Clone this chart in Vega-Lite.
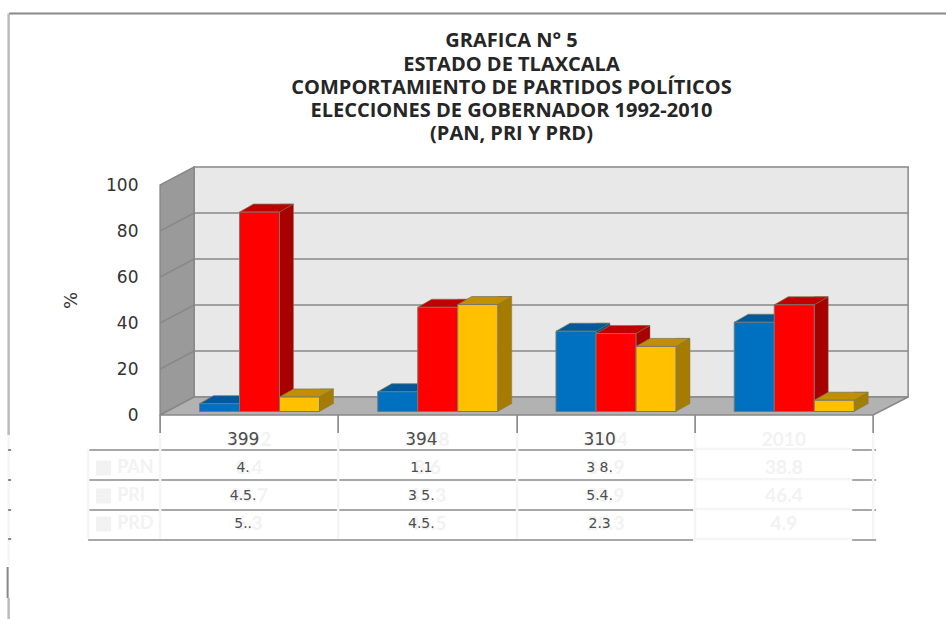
{
"$schema":"https://vega.github.io/schema/vega-lite/v6.json",
"width":713,"height":230,
"padding":{"left":160,"top":185,"right":73,"bottom":204},
"autosize":{"type":"none"},
"background":"white",
"config":{"view":{"stroke":null},"font":"DejaVu Sans"},
"title":{"text":["GRAFICA N° 5","ESTADO DE TLAXCALA","COMPORTAMIENTO DE PARTIDOS POLÍTICOS","ELECCIONES DE GOBERNADOR 1992-2010","(PAN, PRI Y PRD)"],"font":"Open Sans","fontSize":20,"fontWeight":"bold","color":"#262626","lineHeight":23.3,"anchor":"middle","dx":-5,"offset":-136},
"datasets":{
"bars":[
{"year":"1992","party":"PAN","value":3.4},{"year":"1992","party":"PRI","value":86.7},{"year":"1992","party":"PRD","value":6.3},
{"year":"1998","party":"PAN","value":8.6},{"year":"1998","party":"PRI","value":45.3},{"year":"1998","party":"PRD","value":46.5},
{"year":"2004","party":"PAN","value":34.9},{"year":"2004","party":"PRI","value":33.9},{"year":"2004","party":"PRD","value":28.3},
{"year":"2010","party":"PAN","value":38.8},{"year":"2010","party":"PRI","value":46.4},{"year":"2010","party":"PRD","value":4.9}],
"grid":[{"year":"1992","value":20},{"year":"1992","value":40},{"year":"1992","value":60},{"year":"1992","value":80}],
"cells":[
{"year":"1992","row":"Year","text":"1992","dark":"399"},{"year":"1998","row":"Year","text":"1998","dark":"394"},{"year":"2004","row":"Year","text":"2004","dark":"310"},{"year":"2010","row":"Year","text":"2010","dark":""},
{"year":"1992","row":"PAN","text":"3.4","dark":"4."},{"year":"1998","row":"PAN","text":"8.6","dark":"1.1"},{"year":"2004","row":"PAN","text":"34.9","dark":"3 8."},{"year":"2010","row":"PAN","text":"38.8","dark":""},
{"year":"1992","row":"PRI","text":"86.7","dark":"4.5."},{"year":"1998","row":"PRI","text":"45.3","dark":"3 5."},{"year":"2004","row":"PRI","text":"33.9","dark":"5.4."},{"year":"2010","row":"PRI","text":"46.4","dark":""},
{"year":"1992","row":"PRD","text":"6.3","dark":"5.."},{"year":"1998","row":"PRD","text":"46.5","dark":"4.5."},{"year":"2004","row":"PRD","text":"28.3","dark":"2.3"},{"year":"2010","row":"PRD","text":"4.9","dark":""}],
"rowlabels":[{"year":"1992","row":"PAN"},{"year":"1992","row":"PRI"},{"year":"1992","row":"PRD"}],
"anchor":[{"year":"1992","value":0}]
},
"encoding":{"x":{"field":"year","type":"nominal","axis":null,"scale":{"domain":["1992","1998","2004","2010"],"paddingInner":0,"paddingOuter":0}}},
"resolve":{"scale":{"y":"independent"}},
"layer":[
{
"encoding":{"y":{"field":"value","type":"quantitative","scale":{"domain":[0,100],"nice":false},"axis":{"title":"%","titleFont":"DejaVu Sans","titleFontWeight":"normal","titleFontSize":18,"titleColor":"#333","titlePadding":25,"labelFont":"DejaVu Sans","labelFontSize":17,"labelColor":"#333","labelPadding":22,"domain":false,"ticks":false,"grid":false,"values":[0,20,40,60,80,100]}}},
"layer":[
{"data":{"name":"anchor"},"mark":{"type":"point","filled":false,"size":4,"opacity":1,"stroke":"#f5f5f5","strokeWidth":2.5,"shape":"M-240.5 20 L-240.5 150"}},
{"data":{"name":"anchor"},"mark":{"type":"point","filled":false,"size":4,"opacity":1,"stroke":"#bbbbbb","strokeWidth":2.5,"shape":"M-240.5 -401.5 L-240.5 20 M-240.5 183 L-240.5 204"}},
{"data":{"name":"anchor"},"mark":{"type":"point","filled":false,"size":4,"opacity":1,"stroke":"#888","strokeWidth":2,"shape":"M-240 -401.5 L697 -401.5 M-241 35 L-238 35 M-241 65 L-238 65 M-241 95 L-238 95 M-241 124 L-238 124 M-241.5 152 L-241.5 183"}},
{"data":{"name":"anchor"},"mark":{"type":"point","filled":true,"size":4,"opacity":1,"fill":"#e8e8e8","stroke":"#888","strokeWidth":1.5,"shape":"M-55 -18 L659 -18 L659 -248 L-55 -248 Z"}},
{"data":{"name":"anchor"},"mark":{"type":"point","filled":true,"size":4,"opacity":1,"fill":"#9a9a9a","stroke":"#888","strokeWidth":1.5,"shape":"M-89 0 L-55 -18 L-55 -248 L-89 -230 Z"}},
{"data":{"name":"anchor"},"mark":{"type":"point","filled":true,"size":4,"opacity":1,"fill":"#b2b2b2","stroke":"#888","strokeWidth":1.5,"shape":"M-89 0 L-55 -18 L659 -18 L624 0 Z"}},
{"data":{"name":"grid"},"mark":{"type":"point","filled":false,"size":4,"opacity":1,"stroke":"#888","strokeWidth":1.5,"shape":"M-89 0 L-55 -18 L659 -18"}},
{"data":{"name":"anchor"},"mark":{"type":"point","filled":false,"size":4,"opacity":1,"stroke":"#8c8c8c","strokeWidth":1.7,"shape":"M-89 0 L-89 18 M89 0 L89 18 M268 0 L268 18 M446 0 L446 18 M624 0 L624 18 M-161 35 L444 35 M-161 65 L444 65 M-161 95 L444 95 M-161 125 L444 125 M603 35 L627 35 M603 65 L627 65 M603 95 L627 95 M603 125 L627 125"}},
{"data":{"name":"bars"},"mark":{"type":"bar","width":14,"yOffset":-11.5,"y2Offset":-11.5,"stroke":"#7f7f5f","strokeWidth":0.5},
 "encoding":{"xOffset":{"field":"party","type":"nominal","sort":["PAN","PRI","PRD"],"scale":{"domain":["PAN","PRI","PRD"],"range":[66.5,186.5],"paddingInner":0,"paddingOuter":0}},"fill":{"field":"party","type":"nominal","legend":null,"scale":{"domain":["PAN","PRI","PRD"],"range":["#004f8c","#a80000","#a67c00"]}}}},
{"data":{"name":"bars"},"mark":{"type":"point","filled":true,"size":4,"opacity":1,"yOffset":-3.5,"stroke":"#7a7a5a","strokeWidth":0.5,"shape":"M20 -8 L34 -8 L20 0 Z"},
 "encoding":{"y":{"datum":0,"type":"quantitative"},"xOffset":{"field":"party","type":"nominal","sort":["PAN","PRI","PRD"],"scale":{"domain":["PAN","PRI","PRD"],"range":[59.5,139.5],"paddingInner":0,"paddingOuter":0}},"fill":{"field":"party","type":"nominal","legend":null,"scale":{"domain":["PAN","PRI","PRD"],"range":["#004f8c","#a80000","#a67c00"]}}}},
{"data":{"name":"bars"},"mark":{"type":"point","filled":true,"size":4,"opacity":1,"yOffset":-3.5,"stroke":"#7a7a5a","strokeWidth":0.75,"shape":"M-20 0 L-6 -8 L34 -8 L20 0 Z"},
 "encoding":{"xOffset":{"field":"party","type":"nominal","sort":["PAN","PRI","PRD"],"scale":{"domain":["PAN","PRI","PRD"],"range":[59.5,139.5],"paddingInner":0,"paddingOuter":0}},"fill":{"field":"party","type":"nominal","legend":null,"scale":{"domain":["PAN","PRI","PRD"],"range":["#00599c","#c00000","#c09000"]}}}},
{"data":{"name":"bars"},"mark":{"type":"bar","width":40,"yOffset":-3.5,"y2Offset":-3.5,"stroke":"#707a70","strokeWidth":1},
 "encoding":{"xOffset":{"field":"party","type":"nominal","sort":["PAN","PRI","PRD"],"scale":{"domain":["PAN","PRI","PRD"],"range":[39.5,159.5],"paddingInner":0,"paddingOuter":0}},"fill":{"field":"party","type":"nominal","legend":null,"scale":{"domain":["PAN","PRI","PRD"],"range":["#0070c0","#ff0000","#ffc000"]}}}}
],
"resolve":{"scale":{"fill":"independent","xOffset":"independent"}}
},
{
"encoding":{"y":{"field":"row","type":"nominal","axis":null,"scale":{"type":"point","padding":0,"domain":["Year","PAN","PRI","PRD"],"range":[255,339]}}},
"layer":[
{"data":{"name":"anchor"},"mark":{"type":"point","filled":false,"size":4,"opacity":1,"stroke":"#f5f5f5","strokeWidth":2.5,"shape":"M-89 -91 L-89 15 M89 -91 L89 15 M268 -91 L268 15 M446 -91 L446 15 M624 -91 L624 15 M444 -75 L603 -75 M444 -45 L603 -45 M444 -15 L603 -15 M444 15 L603 15 M-161 -75 L-161 15"},
 "encoding":{"y":{"datum":"PRD","type":"nominal"}}},
{"data":{"name":"cells"},"mark":{"type":"text","font":"Lato","fontWeight":"bold","fontSize":19,"color":"#f2f2f2"},"encoding":{"text":{"field":"text"}}},
{"data":{"name":"cells"},"mark":{"type":"text","font":"DejaVu Sans","color":"#4d4d4d","dx":-6},"encoding":{"text":{"field":"dark"},"size":{"condition":{"test":"datum.row==='Year'","value":17},"value":14}}},
{"data":{"name":"rowlabels"},"mark":{"type":"text","font":"Lato","fontWeight":"bold","fontSize":18,"color":"#f2f2f2","align":"left","dx":-132},"encoding":{"text":{"field":"row"}}},
{"data":{"name":"rowlabels"},"mark":{"type":"point","shape":"square","filled":true,"size":225,"opacity":1,"color":"#f2f2f2","xOffset":-145.5}}
]}
]
}
